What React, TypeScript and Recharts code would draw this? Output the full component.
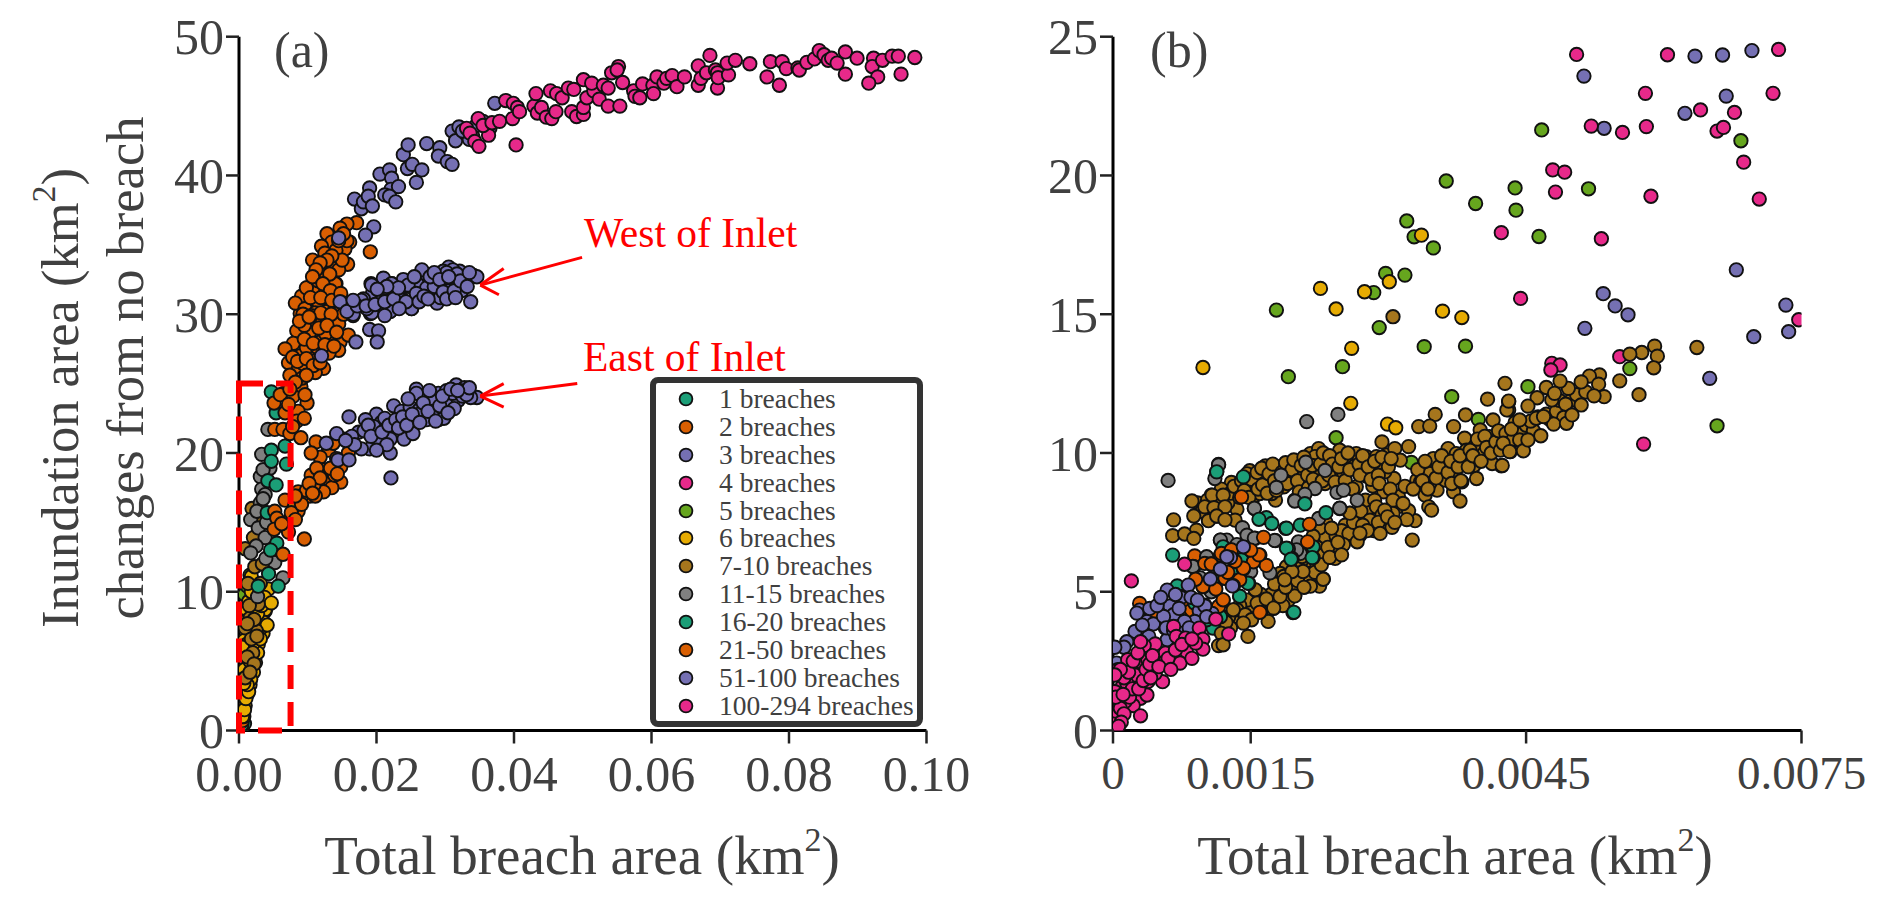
import { ScatterChart, Scatter, XAxis, YAxis, Legend, ReferenceArea, ReferenceLine } from 'recharts'

type P = [number, number]

const seriesNames = ['1 breaches', '2 breaches', '3 breaches', '4 breaches', '5 breaches', '6 breaches', '7-10 breaches', '11-15 breaches', '16-20 breaches', '21-50 breaches', '51-100 breaches', '100-294 breaches']
const seriesColors = ['#1b9e77', '#d95f02', '#7570b3', '#e7298a', '#66a61e', '#e6ab02', '#a6761d', '#808080', '#1b9e77', '#d95f02', '#7570b3', '#e7298a']

const xTicksA = [0, 0.02, 0.04, 0.06, 0.08, 0.1]
const yTicksA = [0, 10, 20, 30, 40, 50]
const xTicksB = [0, 0.0015, 0.0045, 0.0075]
const yTicksB = [0, 5, 10, 15, 20, 25]

// panel (a)
const a1: P[] = [[.0005,.2],[.0008,.5],[.0004,.4]]
const a2: P[] = [[.0005,.7],[.0007,1],[.0004,1.1]]
const a3: P[] = [[.0006,1.3],[.0008,1.6]]
const a4: P[] = [[.0006,1.6]]
const a5: P[] = [[.0016,11.2],[.0008,9.8],[.0012,10.4]]
const a6: P[] = [[.0016,9.2],[.0016,8.45],[.0006,7.6],[.0014,7],[.0038,8.6],[.0035,7],[.0023,6.5],[.0014,4.6],[.0014,4],[.0016,3.3],[.0006,2.4],[.0026,7.7],[.0018,5.8],[.0011,3.8],[.0021,4.2],[.003,8],[.0009,8.8],[.0009,2.9],[.0023,8.9],[.004,8.9],[.0014,9.3],[.0038,8.7],[.0043,10.2],[.0018,11.1],[.0012,5.2],[.0024,5.5],[.0028,6.2],[.0008,6.5],[.0032,7.4],[.0019,7.4],[.0007,5.5],[.0011,6.2],[.0009,1.8],[.0012,2.6],[.0029,9.5],[.0022,10],
[.0005,1],[.0008,1.5],[.001,2.3],[.0014,2.8],[.0017,3.7],[.0012,3.3],[.0019,4.8],[.0024,4.9],[.0007,3.4],[.0008,4.4],[.0016,5],[.0013,6],[.0027,5.6],[.0021,6.3],[.0031,6.6],[.0005,6],[.0036,7.8],[.0041,7.6],[.0011,7.9],[.0019,8],[.0027,8.4],[.0033,9],[.0037,9.6],[.0025,9.6],[.0018,10],[.0047,9.2]]
const a7: P[] = [[.0009,13.1],[.0019,16],[.0035,15],[.0023,11.8],[.0021,13.9],[.0034,12],[.0025,7.2],[.002,5.6],[.0013,10.6],[.0031,10.6],[.0009,7.4],[.0016,8.1],[.0028,9.1],[.0015,9],[.0022,8],[.0012,7.7],[.0018,6.6],[.0026,6.8],[.0012,5.3],[.0022,4.8],[.0009,3.8],[.0016,4.2]]
const a8: P[] = [[.0042,21.7],[.0033,19.9],[.0045,18.9],[.0031,18.3],[.0033,17.4],[.0031,16.4],[.0017,15.2],[.0028,14.6],[.0038,13.9],[.0025,13.3],[.0017,12.8],[.0044,12.5],[.0052,12.1],[.0064,11],[.0027,9.65],[.0039,12.4],[.0026,15.8],[.0038,17],[.0035,18.8],[.004,15],[.0035,16.7]]
const a9: P[] = [[.0047,24.4],[.0054,22.9],[.0047,20.2],[.0067,20.5],[.0047,19.4],[.0069,19.2],[.0042,18],[.0054,17.7],[.0041,15.7],[.0055,13.5],[.0046,13],[.0043,11.3],[.0028,10.4],[.0057,10.4]]
const a10: P[] = [[.0171,36.6],[.0157,36.5],[.0147,36.2],[.0128,35.8],[.0135,35.2],[.012,34.9],[.0161,35.2],[.0154,34.7],[.0141,34.6],[.0191,34.5],[.0107,33.9],[.0123,33.8],[.0136,33.7],[.0158,33.6],[.0116,33.1],[.0116,32.5],[.0141,32.2],[.0127,31.6],[.0099,31.9],[.0111,31.7],[.0084,30.8],[.0098,30.4],[.0116,30.9],[.0127,30.2],[.0091,31.3],[.0112,30.05],[.0089,30.05],[.0142,30.05],[.0157,35.3],[.0098,31.9],[.0115,32.4],[.014,32.2],[.0126,31.6],[.0082,30.8],[.0115,30.9],[.0096,30.4],[.0127,30.2],[.0111,30.1],[.0093,30],[.0122,29.5],[.0084,28.8],[.0132,28.4],[.011,29.4],[.0147,28],[.0145,27.4],[.0118,28],[.0079,27.9],[.0067,27.5],[.0106,27.2],[.0089,27],[.0072,26.5],[.0123,26.1],[.0103,26.1],[.0086,26],[.0111,25.8],[.0159,28.5],[.0132,28.9],[.009,24.8],[.0065,24.3],[.0099,23.6],[.0051,23.6],[.0086,23],[.0067,22.9],[.0084,22.3],[.0052,21.7],[.0064,21.7],[.0074,21.4],[.009,21.1],[.0079,24.1],[.006,24.2],[.0112,20.8],[.0154,21],[.013,20.2],[.0118,19.7],[.0159,20],[.0148,19],[.0123,18.8],[.0105,18.4],[.0148,17.9],[.0127,17.8],[.0115,17.6],[.0135,17.5],[.0123,17.2],[.0086,17.2],[.0103,16.9],[.0091,16.9],[.0067,16.6],[.0086,15.8],[.0052,15.8],[.0055,15.3],[.0074,15.2],[.0051,14.5],[.0072,14.3],[.0095,13.8],[.0064,12.7],[.0103,28.7],[.0117,29],[.0095,29.2],[.0126,28.6],[.0098,27.6],[.0114,27.6],[.0131,27.2],[.0137,29.6],[.0145,29.3],[.0152,30],[.0078,26.9],[.0094,26.4],[.0113,26.7],[.0074,25.6],[.0092,25.4],[.0139,18.4],[.0109,17.7],[.0098,17.3],[.0081,16.2],[.0076,15.7],
[.0125,33],[.0145,33.2],[.015,33.9],[.0125,34.4],[.0135,34.2],[.0145,35.3],[.0152,35.8],[.0128,33.9],[.0118,33.7],[.0132,32.9],[.0112,33.2],[.0107,32.7],[.0122,32.2],[.0133,31.7],[.0104,31.2],[.0119,31.2],[.0135,31],[.0148,31.5],[.0105,29.9],[.0119,30.1],[.0134,30],[.0088,29.5],[.0102,29.8],[.0116,29],[.0128,29.2],[.0142,28.7],[.0095,28.2],[.0108,27.9],[.0125,27.8],[.0138,27.7],[.0085,26.6],[.0098,26.8],[.0108,26.3],[.0118,26.5],[.0098,25.6],[.0082,25.1],[.0096,24.2],[.0074,24.6],[.0072,23.5],[.0095,22.5],[.0078,21.9],[.0105,20],[.0137,20.7],[.0142,19.6],[.0133,18.9],[.0113,18.9],[.0118,18.2],[.0102,17.8],[.0143,18.5],[.0091,16.3],[.0111,16.9],[.0082,15.2],[.0062,14.9],[.0082,16.9],[.0107,17.1]]
const a11: P[] = [[.0168,38.3],[.0178,37.6],[.0181,38.1],[.019,39.1],[.0188,38.5],[.0194,37.8],[.0205,40.1],[.0219,40.4],[.0222,39.8],[.0221,39],[.0232,39.2],[.0212,38.6],[.0219,38.5],[.0228,38.1],[.0239,41.5],[.0246,42.2],[.0245,40.5],[.0252,40.8],[.0266,40.4],[.0258,39.5],[.0273,42.3],[.0292,42],[.029,41.4],[.0303,41],[.031,40.8],[.031,43.2],[.0315,42.5],[.0196,36.3],[.0184,35.7],[.0145,35.5],[.032,43.5],[.033,43],[.034,42.8],[.0345,43.6],[.0335,42.6],[.0325,43.2],[.0355,43.9],[.0365,43.4],[.0372,45.2],
[.0341,32.8],[.0337,30.9],[.0324,31.7],[.0329,32.6],[.0321,33.1],[.0305,33.4],[.0297,33.1],[.0303,32.2],[.0288,31.4],[.0308,31.3],[.0288,30.8],[.0273,31.9],[.0266,32.7],[.0266,33.2],[.0247,32],[.0239,32.5],[.0237,31.1],[.0251,30.4],[.0222,32.2],[.021,32.6],[.0192,32.2],[.0194,31.5],[.0209,31.3],[.022,30.2],[.0166,29.9],[.0152,30.8],[.0181,31.1],[.0191,30.05],[.0203,30.7],[.023,31.5],[.0259,32.2],[.0283,32.2],[.0312,32.5],[.0193,32.1],[.0222,32.2],[.0246,32.1],[.0273,31.9],[.0285,31.4],[.0251,30.4],[.022,30.2],[.0237,31],[.021,31.8],[.0193,30.1],[.0166,30],[.0147,30.9],[.0157,30.2],[.0178,31],[.019,28.9],[.0203,28.8],[.0201,28],[.017,28],[.012,27],[.0186,30.4],[.0207,31],[.0346,32.7],[.0328,32.7],[.0311,33.2],[.0302,33],[.0319,32.3],[.0305,31.7],[.0284,32],[.0293,31.2],
[.0172,30.6],[.0185,30.6],[.0198,30.7],[.0212,30.9],[.0225,31.1],[.0232,31.9],[.0243,30.9],[.0258,31.5],[.0262,30.9],[.0269,31.3],[.0278,32.7],[.0284,33],[.0292,32.5],[.0297,31.6],[.0302,31.1],[.0313,31.7],[.0317,32.9],[.0322,32.4],[.0332,32],[.0335,33],[.0315,31.2],[.0305,32.7],[.0275,31.1],[.0215,32],[.0255,32.7],[.0166,31],[.0201,31.8],[.0233,30.4],[.0212,29.9],
[.0258,24.6],[.0271,24.1],[.0281,23.6],[.029,24.3],[.0225,23.4],[.0236,23],[.0249,23.3],[.0262,23.1],[.0256,22.3],[.0273,22.4],[.029,22.4],[.02,22.8],[.0207,22.2],[.0184,22.4],[.016,22.6],[.0174,21.5],[.0196,21.9],[.0227,21.4],[.024,21],[.0253,21.4],[.022,21],[.0203,20.8],[.019,20.3],[.0178,20.3],[.0164,21.2],[.0142,21.4],[.0127,20.7],[.0144,19.5],[.016,19.5],[.022,20],[.0221,18.2],[.0302,24.5],[.0316,24.9],[.0328,24.7],[.0346,24],[.0305,23.4],[.0284,23.8],[.0267,23],[.0298,22.5],[.0319,23.8],[.0337,24],[.0258,24.3],[.0311,24.3],[.0325,24.1],[.0281,23],[.0249,22.5],
[.0182,21.6],[.0188,22],[.0192,21.2],[.0208,21.5],[.0212,22.5],[.0218,22],[.0228,22.4],[.0232,21.8],[.0238,22.6],[.0244,22],[.0246,23.9],[.0252,22.8],[.0263,22.2],[.0268,23.6],[.0275,23],[.0286,22.3],[.0292,23.4],[.0296,24.1],[.0308,24.6],[.0313,23.2],[.0322,24.5],[.0331,24.2],[.0335,24.7],[.0318,24.5],[.0277,24.5],[.0304,22.9],[.0215,20.6],[.0168,20.6],[.0155,20.9],[.02,20.2]]
const a12: P[] = [[.0331,43.4],[.0348,44.1],[.0336,43.05],[.0343,42.45],[.0349,42.1],[.0363,42.9],[.0355,43.6],[.0368,43.8],[.0379,43.9],[.0398,44.1],[.0403,42.2],[.0388,45.4],[.0399,45.2],[.0405,44.9],[.0408,44.6],[.0429,45],[.0434,44.5],[.044,44.9],[.0447,44.2],[.0455,44.1],[.0461,44.6],[.0432,45.9],[.0453,46.1],[.0462,45.9],[.047,45.6],[.0479,46.3],[.0487,46.2],[.0484,44.6],[.0491,44.25],[.0501,44.4],[.0501,44.9],[.0506,45.6],[.0516,46.1],[.0524,45.5],[.0537,45],[.0554,45],[.0501,46.9],[.0513,46.65],[.053,46.5],[.0537,46.3],[.0542,47.4],[.0552,47.85],[.055,47.6],[.0558,46.7],[.0574,46.1],[.0576,45.7],[.0583,45.6],[.0587,46.6],[.0602,46.5],[.0603,45.9],[.0608,47.1],[.0618,46.65],[.0622,47],[.063,47.2],[.0637,46.4],[.0648,47.1],[.0668,47.9],[.0685,48.65],[.0668,46.5],[.0672,47],[.068,47.4],[.0693,47.6],[.0696,47.4],[.0696,46.3],[.0697,47.05],[.0712,47.25],[.071,48.1],[.0722,48.3],[.0743,48.05],[.0773,48.2],[.0768,47.1],[.0786,46.5],[.079,48.2],[.0796,47.7],[.0813,47.75],[.0815,47.6],[.0826,48.15],[.0837,48.4],[.0844,49],[.0851,48.7],[.0857,48.3],[.0862,48.45],[.087,48.1],[.0882,47.3],[.0882,48.9],[.0899,48.45],[.0923,48.45],[.0921,47.85],[.0936,48.3],[.0929,47.1],[.0916,46.65],[.095,48.6],[.0959,48.6],[.0963,47.3],[.0983,48.5]]

// panel (b)
const b1: P[] = [[.00065,6.32],[.00113,9.33],[.0007,5.21],[.00138,4.83],[.00196,4.25],[.00109,3.69],[.00121,4.08]]
const b2: P[] = [[.00029,4.58],[.00046,4.22],[.00045,4.2],[.00057,3.69],[.00082,4.29],[.00089,6.29],[.00106,6.02],[.00091,5.48]]
const b3: P[] = [[.00513,23.58],[.00634,24.3],[.00664,24.34],[.00696,24.5],[.00668,22.86],[.00623,22.24],[.00535,21.7],[.00679,16.6],[.00534,15.74],[.00547,15.3],[.00561,14.98],[.00514,14.49],[.00733,15.33],[.00736,14.37],[.00698,14.19],[.0065,12.69]]
const b4: P[] = [[.00505,24.36],[.00604,24.35],[.00725,24.54],[.0058,22.96],[.00719,22.96],[.0064,22.36],[.00677,22.27],[.00521,21.78],[.00555,21.55],[.00581,21.76],[.00658,21.6],[.00665,21.73],[.00687,20.48],[.00479,20.2],[.00492,20.12],[.00482,19.4],[.00586,19.25],[.00704,19.15],[.00423,17.94],[.00532,17.72],[.00444,15.57],[.00747,14.8],[.00478,13.23],[.00487,13.17],[.00477,12.99],[.00552,13.47],[.00578,10.32],[.0002,5.39]]
const b5: P[] = [[.00467,21.64],[.00684,21.25],[.00438,19.55],[.00518,19.52],[.00439,18.75],[.00464,17.8],[.00363,19.8],[.00395,18.99],[.0032,18.36],[.00328,17.79],[.00349,17.39],[.00297,16.47],[.00318,16.41],[.00284,15.78],[.00178,15.15],[.00191,12.75],[.0025,13.11],[.0029,14.52],[.00339,13.83],[.00384,13.85],[.00369,12.03],[.00243,10.55],[.00325,9.66],[.00398,11.21],[.00452,12.39],[.00563,13.04],[.00658,10.98]]
const b6: P[] = [[.00226,15.93],[.00274,15.81],[.00301,16.17],[.00243,15.19],[.00359,15.11],[.0038,14.88],[.0026,13.77],[.00098,13.08],[.00259,11.79],[.00299,11.04],[.00308,10.91],[.00336,17.85]]
const b7: P[] = [[.00107,8.48],[.00104,7.58],[.00111,8],[.00113,7.73],[.0012,8.48],[.00129,8.94],[.00135,7.97],[.00133,7.58],[.001,8.06],[.00149,9.36],[.00153,8.84],[.00154,8.45],[.00166,9.53],[.00167,9.02],[.00177,8.3],[.0018,9.5],[.00182,8.78],[.00193,9.08],[.00204,9.26],[.002,9.62],[.00215,9.98],[.00224,10.16],[.0022,9.87],[.00231,8.9],[.00231,9.74],[.00244,9.87],[.00255,9.65],[.0024,9.33],[.00251,9.14],[.00265,9.98],[.00262,9.5],[.00276,9.17],[.00276,9.87],[.00287,9.87],[.00298,9.93],[.00293,10.4],[.00307,10.16],[.00313,9.74],[.00306,9.08],[.00283,8.81],[.00295,8.6],[.00296,9.32],[.00311,8.42],[.00314,8.09],[.00329,7.56],[.00322,7.92],[.00326,6.86],[.00276,7.88],[.00258,7.82],[.00265,8.78],[.00186,8.78],[.00173,8.54],[.0016,8.54],[.00187,9.44],[.00207,8.84],[.00198,8.3],[.00222,9.26],[.00247,10.1],[.00273,9.38],[.00284,9.38],[.00291,9.62],
[.00092,8.2],[.00097,7.9],[.00103,8.3],[.00115,8.2],[.00118,8.7],[.00125,8.2],[.00128,8.55],[.00132,8.8],[.00138,8.4],[.0014,9],[.00143,8.65],[.00146,9.25],[.00148,8.4],[.00151,9.05],[.00157,9.3],[.00158,8.7],[.00162,9.45],[.00163,8.85],[.00168,8.55],[.0017,9.25],[.00174,9.6],[.00176,9],[.00178,8.65],[.00184,9.3],[.00188,9.65],[.0019,8.9],[.00195,9.4],[.00197,9.75],[.00201,9],[.00203,8.6],[.00205,9.55],[.00208,9.85],[.00212,9.2],[.00213,8.75],[.00217,9.55],[.00218,9.05],[.00226,9.6],[.00228,9],[.00229,10],[.00235,9.2],[.00236,9.9],[.00239,9.6],[.00242,8.95],[.00246,9.5],[.00249,9.8],[.00253,9],[.00256,10],[.00258,9.4],[.00261,8.7],[.00268,9.6],[.00269,9.2],[.00272,9.9],[.00278,9.5],[.00281,9.05],[.00285,9.7],[.00289,9.2],[.00293,9.85],[.003,9.5],[.00303,9.8],[.0029,8.9],[.00302,8.7],[.00305,8.3],[.00318,8.8],[.0032,7.6],[.00275,8.3],[.00285,8.3],[.0027,7.9],
[.00238,7.28],[.00247,6.78],[.00262,7.28],[.00269,7.04],[.00284,7.2],[.00296,7.43],[.00304,7.32],[.00287,8.06],[.00293,7.76],[.00316,8.18],[.00253,7.4],[.0024,6.74],[.00236,6.24],[.00229,5.46],[.00247,6.44],[.00209,5.96],[.00206,5.66],[.00197,5.6],[.00209,5.18],[.00198,4.88],[.00188,5.18],[.00177,5.28],[.00182,4.82],[.00175,4.4],[.00166,4.76],[.00155,5.06],[.00155,4.64],[.00142,4.22],[.00131,4.34],[.00149,4.16],[.00222,6.02],[.00222,6.62],[.00204,5.42],[.00189,5.9],[.00182,5.66],[.00164,4.4],[.00193,5.18],[.00215,5.66],[.00255,6.98],[.00231,6.98],[.0028,7.58],[.00305,7.82],[.00296,7.94],
[.00232,7.5],[.00225,7.3],[.00218,7],[.00212,6.5],[.00203,5.8],[.00212,5.6],[.00205,6.1],[.00193,5.55],[.00186,5.55],[.00183,5.1],[.00172,4.9],[.00178,4.6],[.0017,4.4],[.00161,4.9],[.00161,4.3],[.00152,4.5],[.00146,4.7],[.00138,4.5],[.00136,4.1],[.00126,4.1],[.00128,3.7],[.00123,3.9],[.00118,3.5],[.00196,5.1],[.00201,5.4],[.0022,5.7],[.00226,6.3],[.00234,6.6],[.00242,6.2],[.00243,7],[.00249,7.2],[.00257,7.1],[.00266,6.8],[.00262,7.5],[.00272,7.4],[.00277,7.2],[.00289,7.5],[.00291,7.1],[.00299,7.7],[.00307,7.5],[.00251,6.7],[.00225,5.2],[.00215,5.2],[.00191,4.7],[.00185,4.5],
[.00331,9.02],[.00338,9.38],[.00345,9.26],[.00349,9.8],[.00363,9.66],[.00373,9.2],[.00382,9.9],[.00393,9.54],[.00396,9.08],[.00365,10.16],[.00385,10.46],[.00374,9.98],[.004,10.22],[.0041,10.59],[.00423,9.54],[.00413,9.62],[.00425,10.35],[.00434,10.86],[.00414,11.19],[.004,10.83],[.00383,10.53],[.00353,8.66],[.0034,8.48],[.00344,8.06],[.00347,7.94],[.00371,8.6],[.00378,8.27],[.00362,9.02],[.0038,8.96],[.00345,8.9],[.00335,8.96],[.00404,9.98],[.00433,10.05],[.00438,10.47],[.00385,10.1],[.00305,14.91],[.00408,11.94],[.00431,11.85],[.00431,11.55],[.00384,11.37],[.00351,11.39],[.00333,10.95],[.00345,10.97],[.00371,10.95],[.00322,10.23],
[.00327,8.7],[.00332,9.4],[.00337,9],[.0034,9.7],[.00343,8.7],[.00352,9.1],[.00355,9.5],[.00358,9.9],[.00365,9.3],[.00368,9.7],[.00369,8.9],[.00376,9.5],[.00378,9.9],[.00379,9],[.00387,9.5],[.00389,10.1],[.00392,9.9],[.00397,10.5],[.00401,9.7],[.00405,10.6],[.00407,10.2],[.00412,10],[.00417,10.4],[.0042,10.8],[.00422,10.1],[.00428,10.7],[.00436,10.5],[.00441,10.9],[.00445,10.8],[.0045,11],[.00458,10.8],[.00463,11.3],[.00472,11.4],[.00476,11.2],[.00483,11.5],[.00486,11.9],[.00499,11.9],[.00505,12.1],[.00515,12.2],
[.00636,13.8],[.0059,13.85],[.00593,13.49],[.00576,13.62],[.00563,13.56],[.00589,13.07],[.00552,12.6],[.00573,12.1],[.0053,12.81],[.00519,12.77],[.0051,12.56],[.00529,12.48],[.00535,12.03],[.00524,12.06],[.0051,11.73],[.00496,12.33],[.00487,12.59],[.00472,12.36],[.00478,11.91],[.00462,11.99],[.00493,11.76],[.00491,11.28],[.0048,11.04],[.00452,11.69],[.00429,11.55],[.00431,11.87],[.00427,12.51],[.00455,11.15],[.00466,10.62],[.00438,11.1],[.00434,10.86],[.00443,10.47],[.00425,10.35],[.00447,10.08],[.00432,10.05],[.00424,9.55],[.00452,10.47],[.00461,11.25],[.00494,11.07],[.005,11.37],[.00481,12.15],[.00443,11.19],[.00469,11.31],
[.00086,8.27],[.00108,8.48],[.0012,8.48],[.001,8.06],[.0011,8.03],[.00122,8.06],[.00088,7.73],[.00066,7.59],[.00104,7.56],[.00113,7.73],[.00091,7.22],[.00065,7.02],[.00078,7.08],[.00088,6.92],[.00122,7.59],
[.00147,3.39],[.00115,3.06],[.0012,3.09],[.00135,4.35],[.00144,4.17],[.00151,3.99],[.00155,5.07],[.00157,4.59],[.00167,4.74],[.00175,4.41],[.00169,3.93],[.00131,4.35],[.00142,3.87],[.00182,4.83],[.00198,4.85],[.00208,5.16],[.00176,5.28],[.00188,5.16],[.00229,5.45],[.00207,5.73],[.00195,5.73],[.00206,6.27],[.00227,5.97],[.00236,6.24],[.00245,6.78],[.00238,7.29],[.00258,7.83],[.00269,7.11],[.00249,6.33],[.00187,5.43]]
const b8: P[] = [[.00211,11.13],[.00245,11.39],[.00115,9.59],[.00111,9.08],[.0021,9.67],[.00231,9.37],[.00183,9.2],[.00178,8.76],[.0022,8.72],[.00209,8.51],[.00198,8.27],[.00244,8.58],[.00251,8.66],[.00266,8.3],[.00247,8],[.00154,8],[.00141,7.31],[.00146,7.04],[.00155,6.92],[.00177,6.84],[.00224,7.64],[.00204,6.38],[.00171,5.68],[.00117,6.86],[.00124,6.86],[.00202,6.8],[.0006,9.01],[.00115,9.57],[.00117,6.86],[.00102,6.26],[.00088,5.9],[.002,6.51],[.00087,5.91],[.00154,6.93],[.00176,6.85],[.00154,8.01],[.00247,8.01],[.00107,5],[.0015,5.73],[.00125,6.5],[.00135,6.7],[.00095,5.5],[.00112,5.7]]
const b9: P[] = [[.00113,9.32],[.00142,9.14],[.00209,8.17],[.00232,7.85],[.00167,7.67],[.00159,7.61],[.00173,7.46],[.00188,7.28],[.00204,7.4],[.00191,6.54],[.00195,6.2],[.00218,6.23],[.00218,6.62],[.00197,4.26],[.00138,4.84],[.00148,5.3],[.0014,6.14],[.0012,6.62],[.00117,4.1],[.00089,4.59],[.00113,5.37],[.0014,6.15],[.00147,5.31],[.00102,3.99],[.00133,5.61],[.00189,6.57],[.00217,6.23],[.00194,6.17],[.00189,7.29]]
const b10: P[] = [[.0014,8.42],[.00214,7.43],[.00164,6.96],[.00212,6.8],[.0016,6.32],[.00153,6.08],[.00167,5.95],[.00142,5.82],[.00107,6],[.00117,6.32],[.00129,6.5],[.00122,5.48],[.00137,5.42],[.00098,5.18],[.0012,4.7],[.0016,4.26],[.001,6.02],[.00118,6.38],[.00115,4.47],[.0012,4.71],[.00098,5.19],[.0009,5.45],[.00122,5.49],[.00138,5.43],[.00142,5.85],[.00129,6.51],[.00107,6],[.00159,6.33],[.00076,4.7],[.00073,4.1],[.00085,3.5],[.00112,5.1],[.00125,5.7],[.00133,6.1],[.0015,6.5]]
const b11: P[] = [[.00142,6.62],[.00128,6.23],[.00117,5.82],[.00106,5.46],[.00131,5.22],[.001,4.52],[.00097,4.28],[.00108,4.22],[.00124,6.26],[.00082,5.24],[.00059,5.06],[.00074,4.82],[.00029,4.34],[.00062,4.46],[.00095,4.3],[.00074,4.79],[.00062,4.49],[.00066,4.17],[.00094,4.31],[.001,4.49],[.00037,3.93],[.00024,3.57],[.00044,3.84],[.00089,3.93],[.00062,3.39],[.00026,4.23],[.00055,4.11],[.00078,3.93],[.00039,3.39],[.00004,2.43],[.00059,3.27],[.0013,5.21],[.00015,3.2],[.00032,3.8],[.0004,4.4],[.00048,4.5],[.00052,4.8],[.00068,4.9],[.00072,4.4],[.00085,4.8],[.00058,3.7],[.00066,3.6],[.00074,3.5],[.00083,3.7],[.00092,4.7],[.00102,4.1],[.00012,3],[.00002,3]]
const b12: P[] = [[.00078,5.99],[.00112,4.01],[.00126,3.48],[.00094,3.69],[.00066,3.75],[.00069,3.39],[.00098,3.29],[.00098,2.93],[.0008,2.85],[.00073,2.43],[.00057,2.79],[.00056,2.45],[.00046,3.12],[.00034,3.06],[.00031,2.46],[.00016,2.55],[.00005,2.19],[.00026,1.8],[.00038,1.76],[.00054,1.76],[.0001,1.58],[.0003,1.16],[.00022,.9],[.0003,.53],[.00006,.42],[.00004,.98],[.00013,1.04],[.00037,1.28],[.00046,2.06],[.00086,2.6],[.0009,3.15],[.00079,3.33],[.0006,2.6],[.00038,2.55],[.00024,2],[.00004,.38],[.00002,1.4],[.00015,1.7],
[.00003,.7],[.00008,.8],[.00012,.6],[.00018,1.2],[.00021,1.5],[.00028,1.5],[.00033,1.8],[.00036,2.2],[.0004,2.4],[.00043,2.7],[.00012,1.9],[.00017,2.1],[.00008,2.2],[.00022,2.5],[.00027,2.8],[.0003,3.2],[.00041,1.9],[.0005,2.3],[.00063,2.2],[.00068,2.9],[.00075,3.1],[.00086,3.3],[.00002,2],[.00003,1.2],[.00009,.3],[.00006,.15],[.00011,1.3]]

const panelA = [a1, a2, a3, a4, a5, a6, a7, a8, a9, a10, a11, a12]
const panelB = [b1, b2, b3, b4, b5, b6, b7, b8, b9, b10, b11, b12]

const serif = '"Liberation Serif", serif'
const inkColor = '#404040'

function Dot(props: any) {
  return <circle cx={props.cx} cy={props.cy} r={6.7} fill={props.fill} stroke="#111" strokeWidth={1.9} />
}

function LegendBox({ payload }: any) {
  return (
    <div style={{ boxSizing: 'border-box', width: 273, height: 350, border: '6px solid #333', borderRadius: 8, background: '#fff', position: 'relative', fontFamily: serif }}>
      {(payload ?? []).map((item: any, i: number) => (
        <div key={item.value} style={{ position: 'absolute', left: 0, top: 2 + i * 27.9, height: 27.9, display: 'flex', alignItems: 'center', whiteSpace: 'nowrap' }}>
          <svg width={16} height={16} style={{ marginLeft: 22 }}>
            <circle cx={8} cy={8} r={6.4} fill={item.color} stroke="#111" strokeWidth={1.8} />
          </svg>
          <span style={{ marginLeft: 25, fontSize: 27.5, color: inkColor }}>{item.value}</span>
        </div>
      ))}
    </div>
  )
}

const toRows = (pairs: P[]) => pairs.map(([x, y]) => ({ x, y }))

const tickStyle = { fontFamily: serif, fontSize: 50, fill: inkColor }
const axisLine = { stroke: '#000', strokeWidth: 3 }
const tickLine = { stroke: '#222', strokeWidth: 2.5 }
const red = '#ff0000'

function KmLabel({ x, y, text, rotate, size }: { x: number; y: number; text: string; rotate?: boolean; size: number }) {
  return (
    <text x={x} y={y} transform={rotate ? `rotate(-90 ${x} ${y})` : undefined} textAnchor="middle" fontFamily={serif} fontSize={size} fill={inkColor}>
      {text} (km<tspan fontSize={34} dy={-23}>2</tspan><tspan dy={23}>)</tspan>
    </text>
  )
}

export default function App() {
  return (
    <div style={{ position: 'absolute', left: 0, top: 0, width: 1892, height: 904, background: '#fff', overflow: 'hidden' }}>
      <div style={{ position: 'absolute', left: 0, top: 0 }}>
        <ScatterChart width={1000} height={904} margin={{ left: 139, right: 73.5, top: 36.7, bottom: 113.5 }}>
          <XAxis type="number" dataKey="x" domain={[0, 0.1]} ticks={xTicksA} interval={0} allowDataOverflow height={60} tickSize={13} tickMargin={12} tick={tickStyle} axisLine={axisLine} tickLine={tickLine} tickFormatter={(v: number) => v.toFixed(2)} />
          <YAxis type="number" dataKey="y" domain={[0, 50]} ticks={yTicksA} interval={0} allowDataOverflow width={100} tickSize={13} tick={tickStyle} axisLine={axisLine} tickLine={tickLine} />
          {panelA.map((pairs, i) => (
            <Scatter key={seriesNames[i]} name={seriesNames[i]} data={toRows(pairs)} fill={seriesColors[i]} shape={Dot} isAnimationActive={false} />
          ))}
          <Legend layout="vertical" align="center" verticalAlign="middle" itemSorter={null} content={<LegendBox />} wrapperStyle={{ left: 650, top: 377, width: 273, height: 350, margin: 0 }} />
          <text x={274} y={67} fontFamily={serif} fontSize={50} fill={inkColor}>(a)</text>
          <text x={584} y={247} fontFamily={serif} fontSize={41.5} fill={red}>West of Inlet</text>
          <text x={583} y={371} fontFamily={serif} fontSize={41.5} fill={red}>East of Inlet</text>
          <KmLabel x={78} y={398} text="Inundation area" rotate size={52.5} />
          <text x={143} y={368} transform="rotate(-90 143 368)" textAnchor="middle" fontFamily={serif} fontSize={52.5} fill={inkColor}>changes from no breach</text>
          <KmLabel x={582} y={874} text="Total breach area" size={55} />
        </ScatterChart>
      </div>
      <div style={{ position: 'absolute', left: 960, top: 0 }}>
        <ScatterChart width={932} height={904} margin={{ left: 53, right: 90.5, top: 36.7, bottom: 113.5 }}>
          <XAxis type="number" dataKey="x" domain={[0, 0.0075]} ticks={xTicksB} interval={0} allowDataOverflow height={60} tickSize={13} tickMargin={12} tick={{ ...tickStyle, fontSize: 47 }} axisLine={axisLine} tickLine={tickLine} />
          <YAxis type="number" dataKey="y" domain={[0, 25]} ticks={yTicksB} interval={0} allowDataOverflow width={100} tickSize={13} tick={tickStyle} axisLine={axisLine} tickLine={tickLine} />
          {panelB.map((pairs, i) => (
            <Scatter key={seriesNames[i]} name={seriesNames[i]} data={toRows(pairs)} fill={seriesColors[i]} shape={Dot} isAnimationActive={false} />
          ))}
          <text x={190} y={67} fontFamily={serif} fontSize={50} fill={inkColor}>(b)</text>
          <KmLabel x={495} y={874} text="Total breach area" size={55} />
        </ScatterChart>
      </div>
      {/* same scales as panel (a), so the red box and arrows land above the dots */}
      <div style={{ position: 'absolute', left: 0, top: 0, pointerEvents: 'none' }}>
        <ScatterChart width={1000} height={904} margin={{ left: 239, right: 73.5, top: 36.7, bottom: 173.5 }}>
          <XAxis type="number" dataKey="x" domain={[0, 0.1]} allowDataOverflow hide />
          <YAxis type="number" dataKey="y" domain={[0, 50]} allowDataOverflow hide />
          <Scatter data={toRows(a12)} shape={() => null} isAnimationActive={false} />
          <ReferenceArea x1={0} x2={0.0075} y1={0} y2={25} fill="none" stroke={red} strokeWidth={6} strokeDasharray="24 13" ifOverflow="visible" />
          <ReferenceLine segment={[{ x: 0.0351, y: 32.1 }, { x: 0.0499, y: 34.1 }]} stroke={red} strokeWidth={3} ifOverflow="visible" />
          <ReferenceLine segment={[{ x: 0.0351, y: 32.1 }, { x: 0.0385, y: 33.3 }]} stroke={red} strokeWidth={3} ifOverflow="visible" />
          <ReferenceLine segment={[{ x: 0.0351, y: 32.1 }, { x: 0.0378, y: 31.4 }]} stroke={red} strokeWidth={3} ifOverflow="visible" />
          <ReferenceLine segment={[{ x: 0.0351, y: 24.1 }, { x: 0.0492, y: 25 }]} stroke={red} strokeWidth={3} ifOverflow="visible" />
          <ReferenceLine segment={[{ x: 0.0351, y: 24.1 }, { x: 0.0385, y: 25 }]} stroke={red} strokeWidth={3} ifOverflow="visible" />
          <ReferenceLine segment={[{ x: 0.0351, y: 24.1 }, { x: 0.0385, y: 23.3 }]} stroke={red} strokeWidth={3} ifOverflow="visible" />
        </ScatterChart>
      </div>
    </div>
  )
}
